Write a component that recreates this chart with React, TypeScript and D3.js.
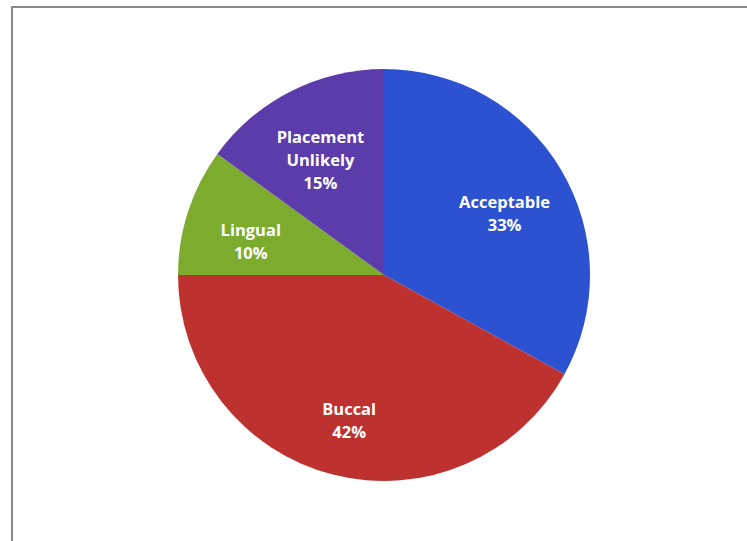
import React from "react";
import * as d3 from "d3";

const categories = ["Acceptable", "Buccal", "Lingual", "Placement Unlikely"];
const values = [33, 42, 10, 15];
const labelLines = [["Acceptable"], ["Buccal"], ["Lingual"], ["Placement", "Unlikely"]];
const colors = ["#2246c6", "#b0282a", "#6e9c25", "#50309e"];
const edgeColors = ["#2c52d2", "#bd322f", "#7cab2e", "#5c3caa"];

export default function App() {
  const W = 747, H = 541;
  const cx = 384, cy = 275, r = 206;
  const pie = d3.pie<number>().sort(null).value((d) => d)(values);
  const arc = d3.arc<d3.PieArcDatum<number>>().innerRadius(0).outerRadius(r);
  const labelArc = d3.arc<d3.PieArcDatum<number>>().innerRadius(r * 0.68).outerRadius(r * 0.68);
  const lh = 23;
  const yShift = 10;
  return (
    <svg width={W} height={H} style={{ position: "absolute", left: 0, top: 0 }}>
      <defs>
        {colors.map((c, i) => (
          <radialGradient key={i} id={`g${i}`} cx={cx} cy={cy} r={r} gradientUnits="userSpaceOnUse">
            <stop offset="0%" stopColor={c} />
            <stop offset="92%" stopColor={c} />
            <stop offset="100%" stopColor={edgeColors[i]} />
          </radialGradient>
        ))}
      </defs>
      <rect x={0} y={0} width={W} height={H} fill="#fff" />
      <rect x={12} y={7} width={W + 10} height={H + 10} fill="#fff" stroke="#8a8a8a" strokeWidth={2} />
      <g transform={`translate(${cx},${cy})`}>
        {pie.map((p, i) => (
          <path key={categories[i]} d={arc(p) || ""} fill={`url(#g${i})`} stroke="none" />
        ))}
        {pie.map((p, i) => {
          const [x, y] = labelArc.centroid(p);
          const lines = [...labelLines[i], `${values[i]}%`];
          const y0 = y + yShift - ((lines.length - 1) * lh) / 2;
          return (
            <text
              key={"t" + i}
              x={x}
              textAnchor="middle"
              fill="#fff"
              fontFamily="'Open Sans', sans-serif"
              fontWeight="bold"
              fontSize={16.5}
            >
              {lines.map((l, k) => (
                <tspan key={k} x={x} y={y0 + k * lh} dy="0.35em">
                  {l}
                </tspan>
              ))}
            </text>
          );
        })}
      </g>
    </svg>
  );
}
